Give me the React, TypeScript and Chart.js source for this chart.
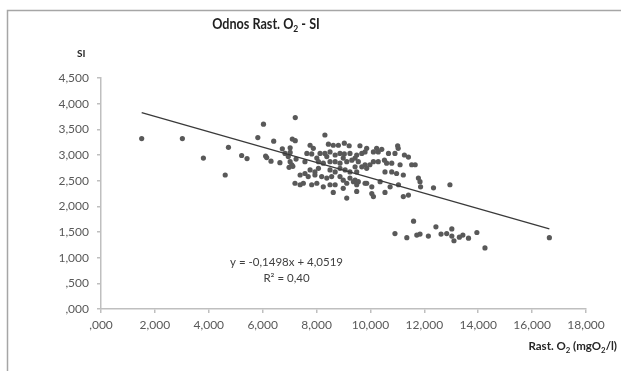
import React, { useEffect, useRef } from "react";
import { Chart, registerables } from "chart.js";

Chart.register(...registerables);

// Dissolved O2 (mgO2/l) per sample
const o2Values: number[] = [
  1.51, 3.02, 3.8, 4.61, 4.73, 5.22, 5.42, 5.82, 6.03, 6.11, 6.15, 6.31, 6.41, 6.64, 6.73, 6.83,
  7.02, 7.02, 7.1, 7.21, 7.21, 6.95, 7.02, 7.08, 6.98, 7.12, 7.24,
  8.31, 7.76, 7.88, 8.44, 8.62, 8.81, 9.03, 9.21, 9.61, 9.86, 10.23, 10.42, 11.01, 11.03,
  7.64, 7.82, 8.13, 8.31, 8.5, 8.69, 8.87, 9.03, 9.24, 9.49, 9.68, 9.8, 10.11, 10.29,
  10.67, 10.91, 11.26, 11.41,
  7.57, 8.01, 8.07, 8.25, 8.38, 8.5, 8.69, 8.87, 8.99, 9.12, 9.31, 9.43, 9.55,
  9.8, 9.98, 10.11, 10.29, 10.52, 10.6, 10.79, 11.1, 11.53, 11.66,
  7.76, 7.94, 8.07, 8.5, 8.69, 8.87, 9.06, 9.24, 9.43, 9.49, 9.68, 9.86,
  10.54, 10.79, 10.97, 11.22,
  7.39, 7.57, 7.69, 7.94, 8.19, 8.38, 8.56, 8.87, 8.99, 9.24, 9.43, 9.55, 9.8,
  7.2, 7.39, 7.51, 7.82, 8.01, 8.25, 8.5, 8.69, 9.12, 9.37, 9.49, 9.86,
  10.36, 10.73, 11.04, 10.05,
  8.62, 8.99, 9.49, 9.12, 10.05, 10.11, 10.54, 11.22, 11.41, 11.78, 11.84,
  11.86, 12.34, 12.95,
  10.91, 11.35, 11.6, 11.72, 11.84, 12.15, 12.43, 12.62, 12.83, 13.02, 13.02, 13.1, 13.3,
  13.43, 13.64, 13.95, 14.25, 16.64,
];

// SI per sample, same order as o2Values
const siValues: number[] = [
  3.32, 3.32, 2.94, 2.61, 3.15, 2.99, 2.93, 3.34, 3.6, 2.98, 2.95, 2.88, 3.27, 2.85, 3.12, 3.03,
  3.14, 3.05, 3.31, 3.28, 3.73, 2.97, 2.87, 2.81, 2.76, 2.78, 2.92,
  3.39, 3.19, 3.13, 3.21, 3.19, 3.19, 3.23, 3.18, 3.18, 3.13, 3.13, 3.11, 3.18, 3.13,
  3.03, 3.02, 3.03, 3.03, 3.06, 3.0, 3.03, 3.02, 3.03, 3.0, 3.03, 3.06, 3.06, 3.06,
  3.03, 3.03, 3.0, 2.96,
  2.87, 2.94, 2.87, 2.84, 2.97, 2.87, 2.87, 2.84, 2.94, 2.87, 2.9, 2.94, 2.87,
  2.81, 2.81, 2.87, 2.87, 2.9, 2.84, 2.84, 2.81, 2.81, 2.81,
  2.71, 2.67, 2.74, 2.71, 2.67, 2.74, 2.71, 2.67, 2.77, 2.67, 2.77, 2.74,
  2.67, 2.67, 2.64, 2.61,
  2.61, 2.64, 2.58, 2.61, 2.58, 2.55, 2.58, 2.58, 2.51, 2.55, 2.51, 2.48, 2.45,
  2.45, 2.42, 2.45, 2.42, 2.45, 2.38, 2.42, 2.42, 2.45, 2.48, 2.42, 2.45,
  2.48, 2.38, 2.42, 2.38,
  2.27, 2.35, 2.29, 2.16, 2.25, 2.19, 2.27, 2.19, 2.22, 2.55, 2.48,
  2.38, 2.36, 2.42,
  1.47, 1.39, 1.71, 1.44, 1.46, 1.42, 1.6, 1.46, 1.47, 1.56, 1.42, 1.33, 1.4,
  1.44, 1.38, 1.49, 1.19, 1.39,
];

// Linear trend stated on the chart
const trendSlope = -0.1498;
const trendIntercept = 4.0519;
const trendLabel = "y = -0,1498x + 4,0519";
const r2Label = "R² = 0,40";

const xTickStep = 2;
const yTickStep = 0.5;

const FONT = "Lato, 'Open Sans', sans-serif";

// Excel-style decimal comma, leading zero dropped: ",500", "4,500"
const fmt = (v: number | string) => {
  const s = Number(v).toFixed(3).replace(".", ",");
  return s.startsWith("0,") ? s.slice(1) : s;
};

type Part = [string, "n" | "sub"];

// Draws a run of text with optional subscripts; squeeze < 1 narrows glyphs horizontally
function drawRich(
  ctx: CanvasRenderingContext2D,
  parts: Part[],
  x: number,
  y: number,
  size: number,
  weight: string,
  align: "left" | "center" | "right",
  color: string,
  squeeze = 1
) {
  const subSize = size * 0.68;
  const fontFor = (k: "n" | "sub") => `${weight} ${k === "n" ? size : subSize}px ${FONT}`;
  let total = 0;
  for (const [t, k] of parts) {
    ctx.font = fontFor(k);
    total += ctx.measureText(t).width;
  }
  total *= squeeze;
  const start = align === "left" ? x : align === "center" ? x - total / 2 : x - total;
  ctx.save();
  ctx.translate(start, y);
  ctx.scale(squeeze, 1);
  ctx.fillStyle = color;
  ctx.textAlign = "left";
  ctx.textBaseline = "alphabetic";
  let cx = 0;
  for (const [t, k] of parts) {
    ctx.font = fontFor(k);
    ctx.fillText(t, cx, k === "sub" ? size * 0.22 : 0);
    cx += ctx.measureText(t).width;
  }
  ctx.restore();
}

const decorations = {
  id: "decorations",
  beforeDraw(chart: Chart) {
    const ctx = chart.ctx;
    ctx.save();
    ctx.fillStyle = "#ffffff";
    ctx.fillRect(0, 0, chart.width, chart.height);
    ctx.strokeStyle = "#a6a6a6";
    ctx.lineWidth = 1.5;
    ctx.beginPath();
    ctx.moveTo(7.5, chart.height);
    ctx.lineTo(7.5, 10.5);
    ctx.lineTo(chart.width, 10.5);
    ctx.stroke();
    ctx.restore();
  },
  afterDraw(chart: Chart) {
    const ctx = chart.ctx;
    ctx.save();
    drawRich(ctx, [["Odnos Rast. O", "n"], ["2", "sub"], [" - SI", "n"]], 266, 29, 14.5, "bold", "center", "#1f1f1f", 0.87);
    drawRich(ctx, [["SI", "n"]], 77, 57, 10, "bold", "left", "#262626");
    drawRich(
      ctx,
      [["Rast. O", "n"], ["2", "sub"], [" (mgO", "n"], ["2", "sub"], ["/l)", "n"]],
      617,
      350,
      11.5,
      "bold",
      "right",
      "#262626"
    );
    drawRich(ctx, [[trendLabel, "n"]], 286.5, 266, 11.5, "normal", "center", "#404040");
    drawRich(ctx, [[r2Label, "n"]], 286.5, 282, 11.5, "normal", "center", "#404040");
    ctx.restore();
  },
};

export default function App() {
  const canvasRef = useRef<HTMLCanvasElement | null>(null);

  useEffect(() => {
    const canvas = canvasRef.current;
    if (!canvas) return;

    const points = o2Values.map((x, i) => ({ x, y: siValues[i] }));
    const xMin = Math.min(...o2Values);
    const xMax = Math.max(...o2Values);
    const trend = [
      { x: xMin, y: trendSlope * xMin + trendIntercept },
      { x: xMax, y: trendSlope * xMax + trendIntercept },
    ];

    const tickFont = { family: FONT, size: 12 };
    const axisGrey = "#bfbfbf";

    const chart = new Chart(canvas, {
      type: "scatter",
      data: {
        datasets: [
          {
            type: "line",
            data: trend,
            borderColor: "#3a3a3a",
            borderWidth: 1.3,
            pointRadius: 0,
            fill: false,
            order: 0,
          } as any,
          {
            data: points,
            backgroundColor: "#595959",
            borderWidth: 0,
            pointRadius: 2.6,
            order: 1,
          },
        ],
      },
      options: {
        responsive: false,
        animation: false,
        devicePixelRatio: 1,
        layout: { padding: { top: 78, right: 35, left: 0, bottom: 0 } },
        plugins: {
          legend: { display: false },
          tooltip: { enabled: false },
          title: { display: false },
        },
        scales: {
          x: {
            type: "linear",
            min: 0,
            max: 18,
            ticks: {
              stepSize: xTickStep,
              callback: (v: any) => fmt(v),
              color: "#595959",
              font: tickFont,
              padding: 5,
              maxRotation: 0,
            },
            grid: { drawOnChartArea: false, drawTicks: true, tickLength: 4, color: axisGrey, lineWidth: 1.5 },
            border: { color: axisGrey, width: 1.5 },
            afterFit: (s: any) => {
              s.height = 62;
            },
          },
          y: {
            type: "linear",
            min: 0,
            max: 4.5,
            ticks: {
              stepSize: yTickStep,
              callback: (v: any) => fmt(v),
              color: "#595959",
              font: tickFont,
              padding: 8,
            },
            grid: { drawOnChartArea: false, drawTicks: true, tickLength: 4, color: axisGrey, lineWidth: 1.5 },
            border: { color: axisGrey, width: 1.5 },
            afterFit: (s: any) => {
              s.width = 101;
            },
          },
        },
      },
      plugins: [decorations],
    });

    return () => chart.destroy();
  }, []);

  return (
    <div style={{ position: "absolute", left: 0, top: 0, width: 621, height: 371, background: "#fff" }}>
      <canvas ref={canvasRef} width={621} height={371} style={{ display: "block" }} />
    </div>
  );
}
